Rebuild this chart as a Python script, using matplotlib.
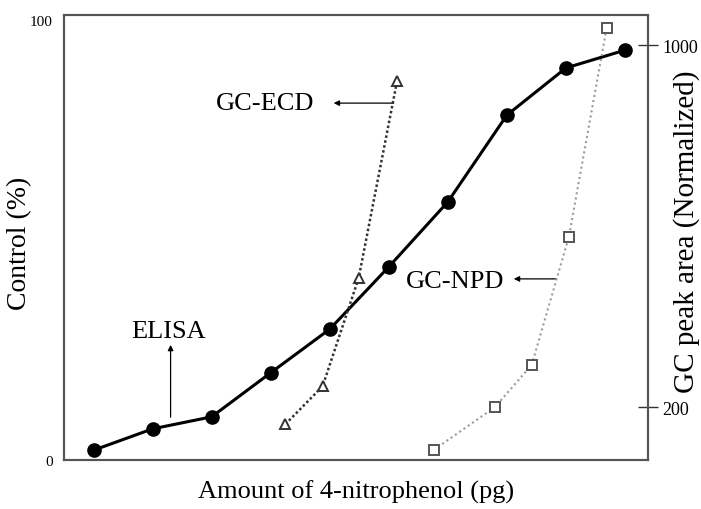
import matplotlib.pyplot as plt

plt.rcParams['font.family'] = ['Liberation Serif', 'DejaVu Serif']

# ELISA (Control %), left axis
elisa_x = [1, 2, 3, 4, 5, 6, 7, 8, 9, 10]
elisa_y = [2.2, 7.0, 9.7, 19.6, 29.4, 43.4, 58.0, 77.5, 88.1, 92.1]

# GC-ECD (peak area, normalized), right axis
ecd_x = [4.25, 4.88, 5.49, 6.14]
ecd_y = [162, 246, 485, 920]

# GC-NPD (peak area, normalized), right axis
npd_x = [6.76, 7.80, 8.42, 9.05, 9.69]
npd_y = [105, 200, 293, 576, 1038]

fig = plt.figure(figsize=(7.01, 5.10), dpi=100)
ax = fig.add_axes([64/701, 49/510, 584/701, 445/510])
ax2 = ax.twinx()

ax.plot(elisa_x, elisa_y, color='black', lw=2.2, marker='o', ms=9.5,
        mfc='black', mec='black', zorder=5)
ax2.plot(ecd_x, ecd_y, color='#333333', lw=1.8, ls=(0, (1, 1)),
         marker='^', ms=7, mfc='white', mec='#333333', mew=1.4)
ax2.plot(npd_x, npd_y, color='#9a9a9a', lw=1.5, ls=(0, (1, 1.5)),
         marker='s', ms=6.5, mfc='white', mec='#555555', mew=1.4)

ax.set_xlim(0.5, 10.39)
ax.set_ylim(0, 100)
ax2.set_ylim(82.9, 1066.3)

ax.set_xticks([])
ax.set_yticks([0, 100])
ax.tick_params(axis='y', length=0, labelsize=11, pad=8)
ax.get_yticklabels()[1].set_va('top')
ax2.set_yticks([200, 1000])
ax2.tick_params(axis='y', direction='inout', length=15, width=1,
                labelsize=13, pad=3, color='#333333')

for a in (ax, ax2):
    for s in a.spines.values():
        s.set_color('#555555')
        s.set_linewidth(1.5)

ax.set_xlabel('Amount of 4-nitrophenol (pg)', fontsize=19, labelpad=14)
ax.set_ylabel('Control (%)', fontsize=20, va='center')
ax.yaxis.set_label_coords(-44/584, 0.49)
ax2.set_ylabel('GC peak area (Normalized)', fontsize=21, rotation=90, va='center')
ax2.yaxis.set_label_coords(1 + 39/584, 0.515)

# annotations
ax.annotate('', xy=(5.02, 80.2), xytext=(6.13, 80.2),
            arrowprops=dict(arrowstyle='-|>', color='black', lw=0.9, mutation_scale=8))
ax.text(4.73, 80.2, 'GC-ECD', fontsize=19, ha='right', va='center')

ax.annotate('', xy=(8.07, 40.7), xytext=(8.88, 40.7),
            arrowprops=dict(arrowstyle='-|>', color='black', lw=0.9, mutation_scale=8))
ax.text(7.95, 40.3, 'GC-NPD', fontsize=19, ha='right', va='center')

ax.annotate('', xy=(2.305, 26.5), xytext=(2.305, 9.0),
            arrowprops=dict(arrowstyle='-|>', color='black', lw=0.9, mutation_scale=8))
ax.text(2.27, 29.0, 'ELISA', fontsize=19, ha='center', va='center')

fig.savefig('out.png', dpi=100)
